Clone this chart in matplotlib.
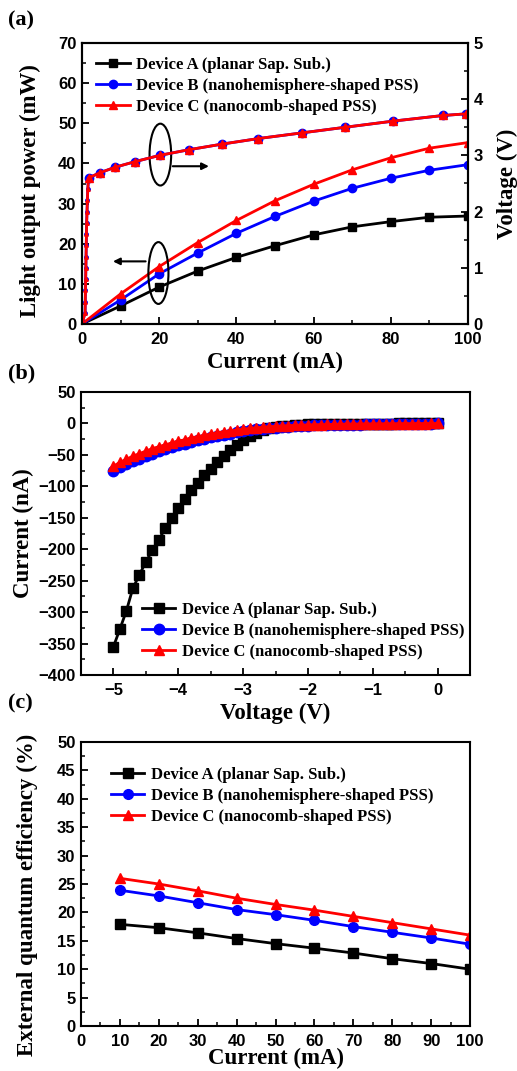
import numpy as np
import matplotlib.pyplot as plt
from matplotlib.patches import Ellipse
from matplotlib.ticker import MultipleLocator

plt.rcParams["font.family"] = ["Liberation Sans", "DejaVu Sans"]
plt.rcParams["font.weight"] = "bold"
plt.rcParams["axes.linewidth"] = 1.5
plt.rcParams["xtick.direction"] = "in"
plt.rcParams["ytick.direction"] = "in"

SERIF = ["Liberation Serif", "DejaVu Serif"]
labels = ["Device A (planar Sap. Sub.)",
          "Device B (nanohemisphere-shaped PSS)",
          "Device C (nanocomb-shaped PSS)"]
colors = ["black", "blue", "red"]
markers = ["s", "o", "^"]

# (a) light output power vs current
cur_L = [0, 10, 20, 30, 40, 50, 60, 70, 80, 90, 100]
power_A = [0, 4.5, 9.2, 13.2, 16.6, 19.5, 22.2, 24.2, 25.5, 26.6, 26.9]
power_B = [0, 6.0, 12.5, 17.7, 22.6, 26.8, 30.6, 33.8, 36.3, 38.3, 39.7]
power_C = [0, 7.5, 14.3, 20.3, 25.8, 30.7, 34.8, 38.4, 41.4, 43.8, 45.2]

# (a) forward voltage vs current
cur_rise = [0, 0.8, 0.85, 0.9, 0.95, 1.0, 1.05, 1.1, 1.15, 1.2, 1.3, 1.4, 1.5, 1.7]
volt_rise = [0, 0.2, 0.4, 0.6, 0.8, 1.0, 1.2, 1.4, 1.6, 1.8, 2.0, 2.2, 2.4, 2.6]
cur_V = [1.7, 4.6, 8.6, 13.8, 20.1, 27.6, 36.2, 45.7, 56.9, 68.1, 80.6, 93.5, 99.6]
volt_B = [2.60, 2.69, 2.79, 2.89, 3.00, 3.10, 3.20, 3.30, 3.40, 3.50, 3.61, 3.71, 3.74]
volt_C = [2.60, 2.69, 2.79, 2.89, 3.00, 3.10, 3.20, 3.30, 3.40, 3.50, 3.61, 3.71, 3.74]

# (b) reverse I-V, -5 V .. 0 V in 0.1 V steps
volt_IV = np.round(np.arange(-5.0, 0.01, 0.1), 2)
iv_A = [-355, -327, -298, -262, -241, -220, -202, -185, -167, -150,
        -134, -120, -106, -94, -82, -72, -61, -51, -42, -34,
        -26, -20, -15, -11, -8, -6, -4.5, -3.5, -2.5, -2,
        -1.5, -1.2, -1, -0.8, -0.6, -0.5, -0.4, -0.3, -0.3, -0.2,
        -0.2, -0.1, -0.1, -0.1, 0, 0, 0, 0, 0, 0, 0]
iv_B = [-76, -70, -65, -60, -56, -52, -48, -44, -41, -38,
        -35, -32, -29, -27, -24, -22, -20, -18, -16, -14,
        -12, -11, -9.5, -8.5, -7.5, -6.5, -5.5, -5, -4.5, -4,
        -3.5, -3.2, -3, -2.8, -2.6, -2.4, -2.2, -2, -1.8, -1.6,
        -1.4, -1.2, -1, -0.9, -0.8, -0.6, -0.5, -0.4, -0.3, -0.2, 0]
iv_C = [-68, -62, -57, -52, -48, -44, -40, -37, -34, -31,
        -28, -26, -23, -21, -19, -17, -15, -13, -12, -10.5,
        -9, -8, -7, -6, -5.2, -4.5, -4, -3.5, -3, -2.6,
        -2.3, -2, -1.8, -1.6, -1.4, -1.2, -1, -0.9, -0.8, -0.7,
        -0.6, -0.5, -0.4, -0.3, -0.3, -0.2, -0.2, -0.1, -0.1, 0, 0]

# (c) EQE vs current
cur_E = [10, 20, 30, 40, 50, 60, 70, 80, 90, 100]
eqe_A = [17.9, 17.3, 16.4, 15.4, 14.5, 13.7, 12.85, 11.85, 11.0, 10.0]
eqe_B = [23.9, 22.9, 21.7, 20.5, 19.6, 18.6, 17.5, 16.5, 15.5, 14.4]
eqe_C = [26.0, 25.0, 23.8, 22.5, 21.4, 20.4, 19.3, 18.2, 17.1, 16.0]

W, H = 517, 1071
fig = plt.figure(figsize=(W / 100, H / 100), dpi=100)


def px_axes(l, t, r, b):
    return fig.add_axes([l / W, 1 - b / H, (r - l) / W, (b - t) / H])


def style(ax):
    ax.tick_params(which="major", length=5, width=1.3, labelsize=12, pad=4)
    ax.tick_params(axis="x", which="major", pad=6)
    ax.tick_params(which="minor", length=3, width=1.1)
    for lab in ax.get_xticklabels() + ax.get_yticklabels():
        lab.set_fontweight("heavy")


leg_font = dict(family=SERIF, weight="bold", size=12)
lab_font = dict(family=SERIF, weight="bold", size=16.5)
leg_opts = dict(frameon=False, prop=leg_font, handlelength=2.0,
                labelspacing=0.3, handletextpad=0.4)

# ---- (a)
ax0 = px_axes(82, 43, 468, 324)
for y, c, m, lab in zip([power_A, power_B, power_C], colors, markers, labels):
    ax0.plot(cur_L, y, color=c, marker=m, ms=6, lw=2, label=lab)
ax0.set_xlim(0, 100)
ax0.set_ylim(0, 70)
ax0.xaxis.set_major_locator(MultipleLocator(20))
ax0.xaxis.set_minor_locator(MultipleLocator(10))
ax0.yaxis.set_major_locator(MultipleLocator(10))
ax0.yaxis.set_minor_locator(MultipleLocator(5))
ax0.set_xlabel("Current (mA)", fontdict=lab_font, labelpad=3)
ax0.set_ylabel("Light output power (mW)", fontdict=lab_font)
ax0.yaxis.set_label_coords(-0.105, 0.475)
style(ax0)
ax0.legend(loc="upper left", bbox_to_anchor=(0.02, 0.975),
           borderaxespad=0.0, **leg_opts)

ax0r = ax0.twinx()
ax0r.plot(cur_rise, volt_rise, color="blue", marker="o", ms=2.5, lw=2)
ax0r.plot(cur_rise, volt_rise, color="red", marker="^", ms=2.5, lw=2)
ax0r.plot(cur_V, volt_B, color="blue", marker="o", ms=6, lw=2)
ax0r.plot(cur_V, volt_C, color="red", marker="^", ms=6, lw=2)
ax0r.set_ylim(0, 5)
ax0r.yaxis.set_major_locator(MultipleLocator(1))
ax0r.yaxis.set_minor_locator(MultipleLocator(0.5))
ax0r.set_ylabel("Voltage (V)", fontdict=lab_font, labelpad=10)
style(ax0r)

ax0.add_patch(Ellipse((20.3, 42.2), 5.6, 15.4, fill=False, lw=1.5, zorder=5))
ax0.add_patch(Ellipse((19.8, 12.7), 5.2, 15.4, fill=False, lw=1.5, zorder=5))
ax0.annotate("", xy=(33.6, 39.3), xytext=(22.8, 39.3),
             arrowprops=dict(arrowstyle="-|>", color="black", lw=1.5))
ax0.annotate("", xy=(7.3, 15.6), xytext=(17.2, 15.6),
             arrowprops=dict(arrowstyle="-|>", color="black", lw=1.5))

# ---- (b)
ax1 = px_axes(81, 392, 470, 675)
for y, c, m, lab in zip([iv_A, iv_B, iv_C], colors, markers, labels):
    ax1.plot(volt_IV, y, color=c, marker=m, ms=7.5, lw=2, label=lab)
ax1.set_xlim(-5.5, 0.5)
ax1.set_ylim(-400, 50)
ax1.xaxis.set_major_locator(MultipleLocator(1))
ax1.xaxis.set_minor_locator(MultipleLocator(0.5))
ax1.yaxis.set_major_locator(MultipleLocator(50))
ax1.yaxis.set_minor_locator(MultipleLocator(25))
ax1.set_xlabel("Voltage (V)", fontdict=lab_font, labelpad=3)
ax1.set_ylabel("Current (nA)", fontdict=lab_font, labelpad=3)
style(ax1)
ax1.legend(loc="lower left", bbox_to_anchor=(0.14, 0.03),
           borderaxespad=0.0, **leg_opts)

# ---- (c)
ax2 = px_axes(81, 742, 470, 1026)
for y, c, m, lab in zip([eqe_A, eqe_B, eqe_C], colors, markers, labels):
    ax2.plot(cur_E, y, color=c, marker=m, ms=7, lw=2, label=lab)
ax2.set_xlim(0, 100)
ax2.set_ylim(0, 50)
ax2.xaxis.set_major_locator(MultipleLocator(10))
ax2.xaxis.set_minor_locator(MultipleLocator(5))
ax2.yaxis.set_major_locator(MultipleLocator(5))
ax2.yaxis.set_minor_locator(MultipleLocator(2.5))
ax2.set_xlabel("Current (mA)", fontdict=lab_font, labelpad=-1)
ax2.set_ylabel("External quantum efficiency (%)", fontdict=lab_font)
ax2.yaxis.set_label_coords(-0.11, 0.46)
style(ax2)
ax2.legend(loc="upper left", bbox_to_anchor=(0.06, 0.935),
           borderaxespad=0.0, **leg_opts)

for txt, y in [("(a)", 20), ("(b)", 373), ("(c)", 703)]:
    fig.text(8 / W, 1 - y / H, txt, family=SERIF, weight="bold", size=16,
             va="center", ha="left")

fig.savefig("out.png", dpi=100)
